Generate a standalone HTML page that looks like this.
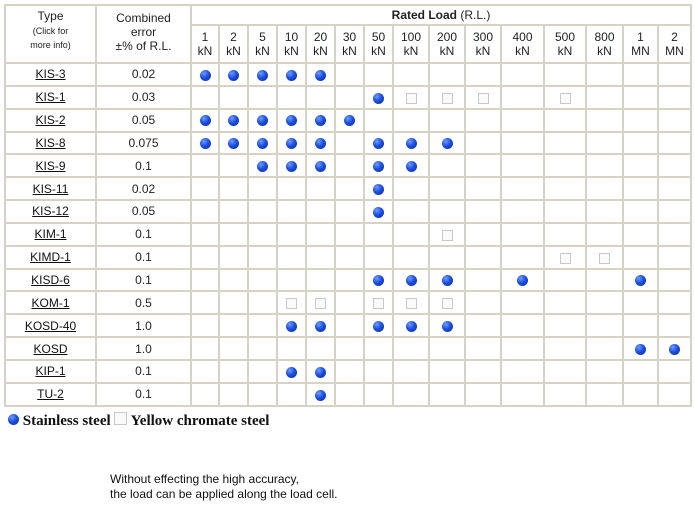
<!DOCTYPE html>
<html><head><meta charset="utf-8"><style>
body{margin:0;background:#fff;width:694px;height:505px;overflow:hidden;font-family:"Liberation Sans",Arial,sans-serif;}
table{position:absolute;left:4px;top:4px;border-collapse:collapse;table-layout:fixed;font-size:12px;color:#222;}
td{border:2px solid #d6d3c6;text-align:center;padding:0;line-height:14px;vertical-align:middle;}
tr.r{height:22.85px;}
a{color:#111;text-decoration:underline;}
.b{display:inline-block;width:11px;height:11px;border-radius:50%;background:radial-gradient(circle at 35% 30%,#6f9cff 0%,#1d4fe0 45%,#0a2a9c 100%);vertical-align:middle;}
.s{display:inline-block;width:9px;height:9px;border:1px solid #c8c8c8;background:#fafafa;vertical-align:middle;}
.leg{position:absolute;left:8px;top:412px;font-family:"Liberation Serif",serif;font-weight:bold;font-size:15px;color:#111;}
.foot{position:absolute;left:110px;top:472px;font-size:12px;line-height:15px;color:#111;}
</style></head><body>
<table>
<colgroup><col style="width:91px"><col style="width:95px"><col style="width:28px"><col style="width:29px"><col style="width:29px"><col style="width:29px"><col style="width:29px"><col style="width:29px"><col style="width:29px"><col style="width:36px"><col style="width:36px"><col style="width:36px"><col style="width:43px"><col style="width:42px"><col style="width:37px"><col style="width:35px"><col style="width:33px"></colgroup>
<tr style="height:20px"><td rowspan="2" style="vertical-align:top;padding-top:3px">Type<br><span style="font-size:9px;line-height:11px">(Click for<br>more info)</span></td><td rowspan="2" style="vertical-align:top;padding-top:5px">Combined<br>error<br>±% of R.L.</td><td colspan="15"><b>Rated Load</b> (R.L.)</td></tr>
<tr style="height:38px"><td>1<br>kN</td><td>2<br>kN</td><td>5<br>kN</td><td>10<br>kN</td><td>20<br>kN</td><td>30<br>kN</td><td>50<br>kN</td><td>100<br>kN</td><td>200<br>kN</td><td>300<br>kN</td><td>400<br>kN</td><td>500<br>kN</td><td>800<br>kN</td><td>1<br>MN</td><td>2<br>MN</td></tr>
<tr class="r"><td><a>KIS-3</a></td><td>0.02</td><td><i class="b"></i></td><td><i class="b"></i></td><td><i class="b"></i></td><td><i class="b"></i></td><td><i class="b"></i></td><td></td><td></td><td></td><td></td><td></td><td></td><td></td><td></td><td></td><td></td></tr>
<tr class="r"><td><a>KIS-1</a></td><td>0.03</td><td></td><td></td><td></td><td></td><td></td><td></td><td><i class="b"></i></td><td><i class="s"></i></td><td><i class="s"></i></td><td><i class="s"></i></td><td></td><td><i class="s"></i></td><td></td><td></td><td></td></tr>
<tr class="r"><td><a>KIS-2</a></td><td>0.05</td><td><i class="b"></i></td><td><i class="b"></i></td><td><i class="b"></i></td><td><i class="b"></i></td><td><i class="b"></i></td><td><i class="b"></i></td><td></td><td></td><td></td><td></td><td></td><td></td><td></td><td></td><td></td></tr>
<tr class="r"><td><a>KIS-8</a></td><td>0.075</td><td><i class="b"></i></td><td><i class="b"></i></td><td><i class="b"></i></td><td><i class="b"></i></td><td><i class="b"></i></td><td></td><td><i class="b"></i></td><td><i class="b"></i></td><td><i class="b"></i></td><td></td><td></td><td></td><td></td><td></td><td></td></tr>
<tr class="r"><td><a>KIS-9</a></td><td>0.1</td><td></td><td></td><td><i class="b"></i></td><td><i class="b"></i></td><td><i class="b"></i></td><td></td><td><i class="b"></i></td><td><i class="b"></i></td><td></td><td></td><td></td><td></td><td></td><td></td><td></td></tr>
<tr class="r"><td><a>KIS-11</a></td><td>0.02</td><td></td><td></td><td></td><td></td><td></td><td></td><td><i class="b"></i></td><td></td><td></td><td></td><td></td><td></td><td></td><td></td><td></td></tr>
<tr class="r"><td><a>KIS-12</a></td><td>0.05</td><td></td><td></td><td></td><td></td><td></td><td></td><td><i class="b"></i></td><td></td><td></td><td></td><td></td><td></td><td></td><td></td><td></td></tr>
<tr class="r"><td><a>KIM-1</a></td><td>0.1</td><td></td><td></td><td></td><td></td><td></td><td></td><td></td><td></td><td><i class="s"></i></td><td></td><td></td><td></td><td></td><td></td><td></td></tr>
<tr class="r"><td><a>KIMD-1</a></td><td>0.1</td><td></td><td></td><td></td><td></td><td></td><td></td><td></td><td></td><td></td><td></td><td></td><td><i class="s"></i></td><td><i class="s"></i></td><td></td><td></td></tr>
<tr class="r"><td><a>KISD-6</a></td><td>0.1</td><td></td><td></td><td></td><td></td><td></td><td></td><td><i class="b"></i></td><td><i class="b"></i></td><td><i class="b"></i></td><td></td><td><i class="b"></i></td><td></td><td></td><td><i class="b"></i></td><td></td></tr>
<tr class="r"><td><a>KOM-1</a></td><td>0.5</td><td></td><td></td><td></td><td><i class="s"></i></td><td><i class="s"></i></td><td></td><td><i class="s"></i></td><td><i class="s"></i></td><td><i class="s"></i></td><td></td><td></td><td></td><td></td><td></td><td></td></tr>
<tr class="r"><td><a>KOSD-40</a></td><td>1.0</td><td></td><td></td><td></td><td><i class="b"></i></td><td><i class="b"></i></td><td></td><td><i class="b"></i></td><td><i class="b"></i></td><td><i class="b"></i></td><td></td><td></td><td></td><td></td><td></td><td></td></tr>
<tr class="r"><td><a>KOSD</a></td><td>1.0</td><td></td><td></td><td></td><td></td><td></td><td></td><td></td><td></td><td></td><td></td><td></td><td></td><td></td><td><i class="b"></i></td><td><i class="b"></i></td></tr>
<tr class="r"><td><a>KIP-1</a></td><td>0.1</td><td></td><td></td><td></td><td><i class="b"></i></td><td><i class="b"></i></td><td></td><td></td><td></td><td></td><td></td><td></td><td></td><td></td><td></td><td></td></tr>
<tr class="r"><td><a>TU-2</a></td><td>0.1</td><td></td><td></td><td></td><td></td><td><i class="b"></i></td><td></td><td></td><td></td><td></td><td></td><td></td><td></td><td></td><td></td><td></td></tr>
</table>
<div class="leg"><i class="b" style="vertical-align:0"></i> Stainless steel <i class="s" style="width:11px;height:11px;vertical-align:0"></i> Yellow chromate steel</div>
<div class="foot">Without effecting the high accuracy,<br>the load can be applied along the load cell.</div>
</body></html>
